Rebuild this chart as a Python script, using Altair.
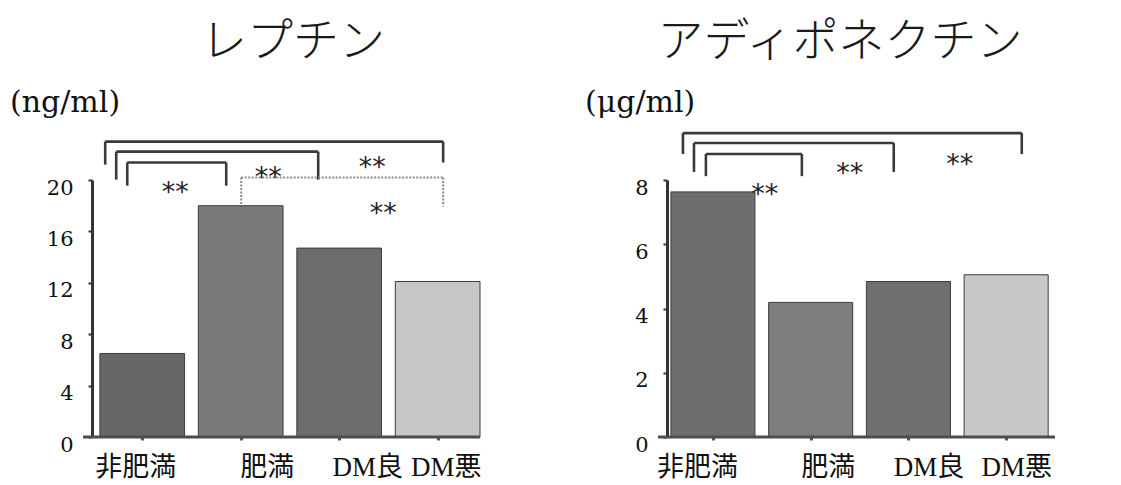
import json
import altair as alt
import pandas as pd

# Groups and measured serum levels
groups = ["非肥満", "肥満", "DM良", "DM悪"]
leptin = [6.5, 18.0, 14.7, 12.1]          # ng/ml
adiponectin = [7.63, 4.19, 4.84, 5.05]    # μg/ml

leptin_fill = ["#676767", "#7a7a7a", "#6c6c6c", "#c6c6c6"]
adipo_fill = ["#6e6e6e", "#7e7e7e", "#6f6f6f", "#c8c8c8"]

# Significance brackets: left end, right end (group index units),
# top level, left-leg bottom, right-leg bottom, dotted?
leptin_brackets = [
    (-0.376, 3.056, 22.99, 21.2, 21.36, False),
    (-0.264, 1.787, 22.21, 20.03, 20.03, False),
    (-0.152, 0.853, 21.36, 19.56, 19.56, False),
    (1.005, 3.056, 20.19, 18.08, 17.93, True),
]
leptin_stars = [(0.335, 19.49), (1.28, 20.65), (2.335, 21.43), (2.447, 17.85)]

adipo_brackets = [
    (-0.307, 3.16, 9.46, 8.81, 8.81, False),
    (-0.194, 1.85, 9.15, 8.25, 8.25, False),
    (-0.072, 0.91, 8.81, 8.12, 8.12, False),
]
adipo_stars = [(2.525, 8.65), (1.40, 8.37), (0.53, 7.72)]

SERIF = "DejaVu Serif"
CJK = "Liberation Serif, Noto Sans CJK JP"
W = 388
H = 257
HALF = 0.43


def segments(brackets, dotted):
    rows = []
    for xl, xr, top, bl, br, d in brackets:
        if d != dotted:
            continue
        rows.append(dict(x=xl, x2=xr, y=top, y2=top))
        rows.append(dict(x=xl, x2=xl, y=top, y2=bl))
        rows.append(dict(x=xr, x2=xr, y=top, y2=br))
    return pd.DataFrame(rows, columns=["x", "x2", "y", "y2"])


def panel(values, fills, title, unit, ymax, tick_step, label_step,
          xdom, brackets, stars, offsets, title_x):
    bars = pd.DataFrame({
        "group": groups,
        "pos": range(len(groups)),
        "value": values,
        "fill": fills,
    })
    bars["xs"] = bars["pos"] - HALF
    bars["xe"] = bars["pos"] + HALF
    bars["zero"] = 0.0

    xscale = alt.Scale(domain=xdom, nice=False, zero=False)
    yscale = alt.Scale(domain=[0, ymax], nice=False)

    n_ticks = int(round(ymax / tick_step))
    yticks = [round(i * tick_step, 3) for i in range(n_ticks + 1)]

    cond = [{"test": f"datum.value == {i}", "value": off}
            for i, off in enumerate(offsets) if i > 0]

    xaxis = alt.Axis(
        values=list(range(len(groups))),
        labelExpr=f"{json.dumps(groups, ensure_ascii=False)}[datum.value]",
        domain=False, grid=False, title=None,
        tickSize=3, tickWidth=3, tickColor="#555555",
        labelFont=CJK, labelFontSize=27, labelColor="#111111",
        labelPadding=14, labelFlush=False, labelOverlap=False,
        labelOffset={"condition": cond, "value": offsets[0]},
    )
    yaxis = alt.Axis(
        values=yticks,
        labelExpr=f"datum.value % {label_step} == 0 ? datum.label : ''",
        grid=False, title=None,
        domainColor="#333333", domainWidth=3,
        tickColor="#333333", tickSize=4, tickWidth=2,
        labelFont=SERIF, labelFontSize=21, labelColor="#111111",
        labelPadding=15, labelOffset=8, labelBaseline="middle",
        labelOverlap=False, labelFlush=False,
    )

    bar_layer = alt.Chart(bars).mark_bar(
        stroke="#3d3d3d", strokeWidth=1
    ).encode(
        x=alt.X("xs:Q", scale=xscale, axis=xaxis),
        x2="xe:Q",
        y=alt.Y("value:Q", scale=yscale, axis=yaxis),
        y2="zero:Q",
        color=alt.Color("fill:N", scale=None),
    )

    base_df = pd.DataFrame({"zero": [0]})
    baseline = alt.Chart(base_df).mark_rule(
        color="#4d4d4d", strokeWidth=3
    ).encode(
        x=alt.value(-9), x2=alt.value(W),
        y=alt.Y("zero:Q", title=None),
    )

    def bracket_layer(df, color, width, dash=None):
        kw = dict(color=color, strokeWidth=width)
        if dash:
            kw["strokeDash"] = dash
        return alt.Chart(df).mark_rule(**kw).encode(
            x=alt.X("x:Q", title=None), x2="x2:Q",
            y=alt.Y("y:Q", title=None), y2="y2:Q",
        )

    layers = [bar_layer, baseline,
              bracket_layer(segments(brackets, False), "#3a3a3a", 2.6)]
    dotted = segments(brackets, True)
    if len(dotted):
        layers.append(bracket_layer(dotted, "#8a8a8a", 2, [2, 1.5]))

    star_df = pd.DataFrame(stars, columns=["x", "y"])
    star_df["t"] = "**"
    layers.append(alt.Chart(star_df).mark_text(
        font="DejaVu Sans", fontSize=27, color="#222222",
        baseline="middle", dy=6,
    ).encode(
        x=alt.X("x:Q", title=None), y=alt.Y("y:Q", title=None), text="t:N"
    ))

    head = pd.DataFrame({"t": [title]})
    layers.append(alt.Chart(head).mark_text(
        font="Noto Sans CJK JP", fontSize=46, fontWeight=300,
        color="#1a1a1a", align="center", baseline="middle",
    ).encode(x=alt.value(title_x), y=alt.value(-138), text="t:N"))

    unit_df = pd.DataFrame({"t": [unit]})
    layers.append(alt.Chart(unit_df).mark_text(
        font=SERIF, fontSize=30, color="#111111",
        align="left", baseline="middle",
    ).encode(x=alt.value(-82), y=alt.value(-77), text="t:N"))

    return alt.layer(*layers).properties(width=W, height=H)


left = panel(leptin, leptin_fill, "レプチン", "(ng/ml)", 20, 2, 4,
             [-0.51, 3.43], leptin_brackets, leptin_stars,
             [-7, 26, 28, 8], 201)
right = panel(adiponectin, adipo_fill, "アディポネクチン", "(μg/ml)", 8, 0.5, 2,
              [-0.47, 3.50], adipo_brackets, adipo_stars,
              [-16, 17, 20, 10], 173)

chart = alt.hconcat(left, right, spacing=187, bounds="flush").properties(
    padding={"left": 10, "top": 19, "right": 5, "bottom": 5},
    background="white",
).configure_view(stroke=None)

chart.save("out.html", embed_options={"renderer": "svg", "actions": False})
